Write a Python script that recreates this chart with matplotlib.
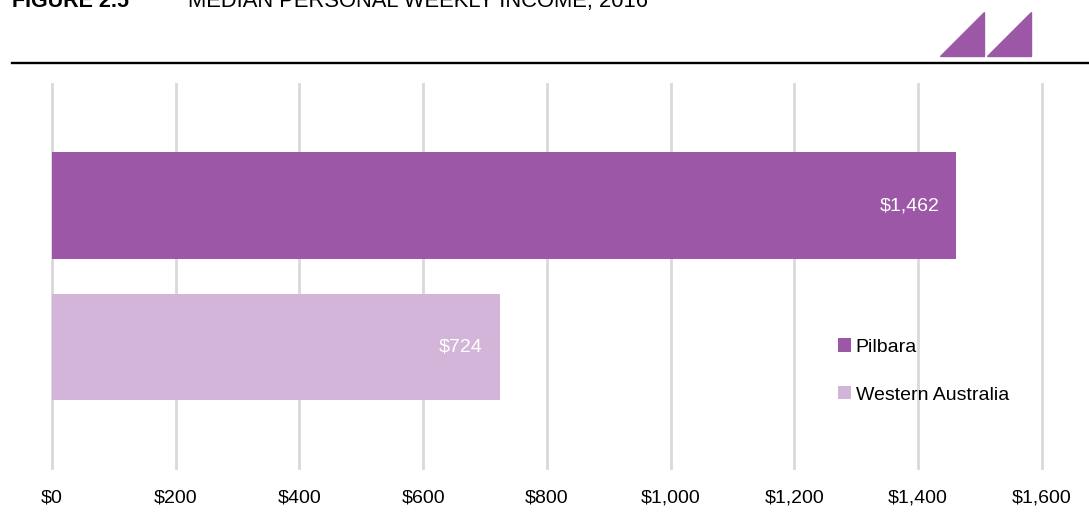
import matplotlib.pyplot as plt
from matplotlib.patches import Polygon

plt.rcParams['font.family'] = ['Liberation Sans', 'DejaVu Sans']

regions = ['Western Australia', 'Pilbara']
income = [724, 1462]
colors = ['#D3B5D9', '#9C58A7']
xticks = [0, 200, 400, 600, 800, 1000, 1200, 1400, 1600]
xtick_labels = ['$0', '$200', '$400', '$600', '$800', '$1,000', '$1,200', '$1,400', '$1,600']

W, H = 1089, 528
fig = plt.figure(figsize=(W / 100, H / 100), dpi=100)

# axes placed in pixel terms: 40..1060 horizontally, 83..470 vertically
ax = fig.add_axes([40 / W, 1 - 470 / H, 1020 / W, 387 / H])

bars = ax.barh(range(len(regions)), income, height=0.75, color=colors, zorder=3)
for i, v in enumerate(income):
    ax.annotate(f'${v:,}', xy=(v, i), xytext=(-17 * 0.72, 0), textcoords='offset points',
                ha='right', va='center', color='white', fontsize=14, zorder=4)

ax.set_xlim(-19.4, 1629.7)
ax.set_ylim(-0.869, 1.866)
ax.set_xticks(xticks)
ax.set_xticklabels(xtick_labels, fontsize=14)
ax.set_yticks([])
ax.tick_params(axis='x', length=0, pad=14)
ax.grid(axis='x', color='#D9D9D9', linewidth=2, zorder=0)
for s in ax.spines.values():
    s.set_visible(False)

# legend: Pilbara first
ax.legend([bars[1], bars[0]], [regions[1], regions[0]], loc='center left',
          bbox_to_anchor=(838 / W, 1 - 371 / H), bbox_transform=fig.transFigure,
          frameon=False, fontsize=14, handlelength=0.68, handleheight=0.68,
          handletextpad=0.22, labelspacing=1.55, borderpad=0, borderaxespad=0)

# header (cut off at the top edge, as in the source)
fig.text(12 / W, 1 - 7 / H, 'FIGURE 2.5', fontsize=15.5, fontweight='bold', va='baseline')
fig.text(188 / W, 1 - 7 / H, 'MEDIAN PERSONAL WEEKLY INCOME, 2016', fontsize=15.8,
         va='baseline')
fig.add_artist(plt.Line2D([12 / W, 1], [1 - 62.5 / H, 1 - 62.5 / H],
                          color='black', linewidth=1.7, transform=fig.transFigure))

# logo triangles
for x0, x1 in [(940, 984), (987, 1031)]:
    tri = Polygon([(x0 / W, 1 - 56 / H), (x1 / W, 1 - 56 / H), (x1 / W, 1 - 12 / H)],
                  closed=True, color='#9C58A7', transform=fig.transFigure)
    fig.add_artist(tri)

fig.savefig('out.png', dpi=100)
